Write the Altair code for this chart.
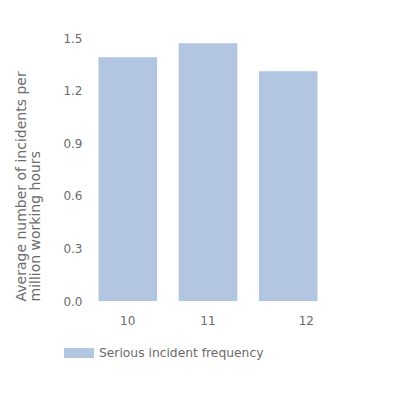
import altair as alt
import pandas as pd

# values
years = ["10", "11", "12"]
frequency = [1.39, 1.47, 1.31]
series = ["Serious incident frequency"] * 3

BAR = "#b3c6e1"
TEXT = "#6b6b6b"
FONT = "DejaVu Sans"

df = pd.DataFrame({"year": years, "frequency": frequency, "series": series})

chart = (
    alt.Chart(df)
    .mark_bar(color=BAR)
    .encode(
        x=alt.X(
            "year:N",
            title=None,
            scale=alt.Scale(paddingInner=0.27, paddingOuter=0.13),
            axis=alt.Axis(
                labelAngle=0,
                domain=False,
                ticks=False,
                labelPadding=14,
                labelOffset={"condition": {"test": "datum.value == '12'", "value": 18}, "value": 0},
            ),
        ),
        y=alt.Y(
            "frequency:Q",
            title=["Average number of incidents per", "million working hours"],
            scale=alt.Scale(domain=[0, 1.5], nice=False),
            axis=alt.Axis(
                values=[0, 0.3, 0.6, 0.9, 1.2, 1.5],
                format=".1f",
                domain=False,
                ticks=False,
                grid=False,
                labelPadding=6,
                titlePadding=20,
                titleAnchor="start",
                titleFontSize=14,
                titleLineHeight=14,
            ),
        ),
        color=alt.Color(
            "series:N",
            scale=alt.Scale(range=[BAR]),
            legend=alt.Legend(
                title=None,
                orient="none",
                legendX=-19,
                legendY=305,
                symbolType="M-1.5,-0.5H1.5V0.5H-1.5Z",
                symbolSize=400,
                symbolStrokeWidth=0,
                symbolOpacity=1,
                labelOffset=10,
                labelLimit=300,
            ),
        ),
    )
    .properties(
        width=240,
        height=263,
        autosize=alt.AutoSizeParams(type="none"),
        padding={"left": 80, "top": 30, "right": 64, "bottom": 91},
    )
    .configure_view(stroke=None)
    .configure_axis(
        labelFont=FONT,
        labelFontSize=12,
        labelColor=TEXT,
        titleFont=FONT,
        titleFontWeight="normal",
        titleColor=TEXT,
    )
    .configure_legend(labelFont=FONT, labelFontSize=12.3, labelColor=TEXT)
)

chart.save("out.html", embed_options={"renderer": "svg", "actions": False})
